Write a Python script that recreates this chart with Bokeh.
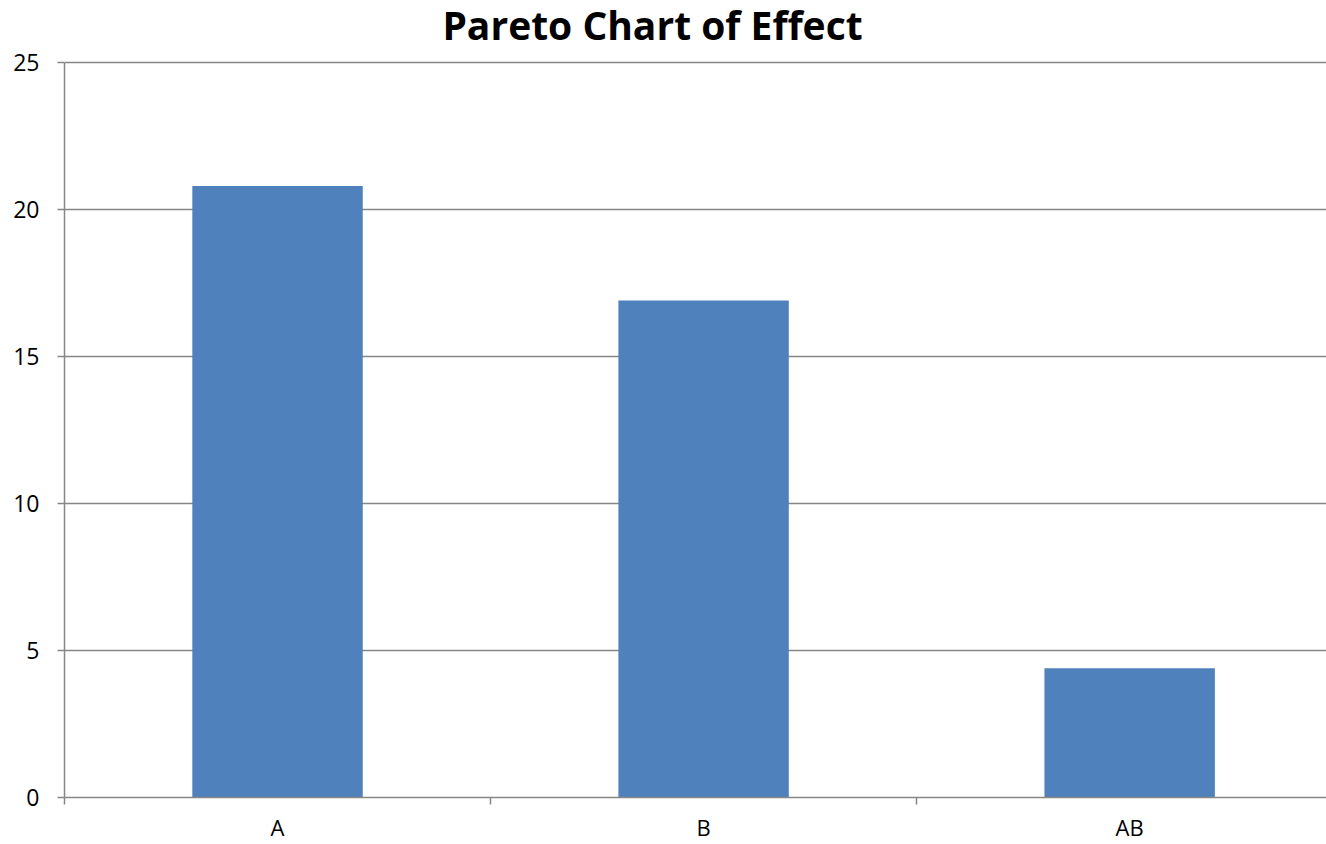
from bokeh.plotting import figure
from bokeh.models import Range1d, FixedTicker, LinearAxis, ColumnDataSource, Grid, Label
from bokeh.embed import file_html
from bokeh.resources import INLINE

# Pareto effects
factors = ["A", "B", "AB"]
effects = [20.8, 16.9, 4.4]
y_ticks = [0, 5, 10, 15, 20, 25]
y_max = 25
title = "Pareto Chart of Effect"

FONT = "Open Sans"
GRID = "#868686"
BAR = "#4F81BD"

W, H = 1326, 844
BOTTOM = 46            # room for the category axis
HEAD = 62              # headroom above the value axis for the title
frame_h = H - BOTTOM
# the plot frame reaches the top of the canvas; the value scale is stretched so
# that y_max sits HEAD pixels below it and the title can live in the headroom
y_top = y_max * frame_h / (frame_h - HEAD)

positions = [i + 0.5 for i in range(len(factors))]
boundaries = list(range(len(factors) + 1))
src = ColumnDataSource(dict(x=positions, top=effects, name=factors))

p = figure(width=W, height=H, output_backend="svg", toolbar_location=None,
           x_range=Range1d(0, 2.962), y_range=Range1d(0, y_top),
           x_axis_location=None, y_axis_location=None,
           min_border_left=64, min_border_right=0, min_border_top=0, min_border_bottom=BOTTOM)
p.outline_line_color = None

p.add_layout(Label(x=588, y=frame_h - 25, x_units="screen", y_units="screen", text=title,
                   text_font=FONT, text_font_size="39px", text_font_style="bold",
                   text_color="black", text_align="center", text_baseline="alphabetic"))

p.vbar(x="x", top="top", width=0.4, source=src, fill_color=BAR, line_color=None)

# y axis
yax = LinearAxis(ticker=FixedTicker(ticks=y_ticks), bounds=(0, y_max))
yax.axis_line_color = GRID
yax.axis_line_width = 1.5
yax.major_tick_line_color = GRID
yax.major_tick_line_width = 1.5
yax.major_tick_out = 7
yax.major_tick_in = 0
yax.minor_tick_line_color = None
yax.major_label_text_font = FONT
yax.major_label_text_font_size = "23px"
yax.major_label_text_color = "black"
yax.major_label_standoff = 18
p.add_layout(yax, "left")

# x axis: names at the bar centres, minor ticks on category boundaries
xax = LinearAxis(ticker=FixedTicker(ticks=positions, minor_ticks=boundaries))
xax.axis_line_color = GRID
xax.axis_line_width = 1.5
xax.major_tick_line_color = None
xax.major_tick_out = 0
xax.major_tick_in = 0
xax.minor_tick_line_color = GRID
xax.minor_tick_line_width = 1.5
xax.minor_tick_out = 7
xax.minor_tick_in = 0
xax.major_label_overrides = {pos: name for pos, name in zip(positions, factors)}
xax.major_label_text_font = FONT
xax.major_label_text_font_size = "22px"
xax.major_label_text_color = "black"
xax.major_label_standoff = 7
p.add_layout(xax, "below")

p.xgrid.grid_line_color = None
p.ygrid.grid_line_color = None

hgrid = Grid(dimension=1, ticker=FixedTicker(ticks=y_ticks[1:]),
             grid_line_color=GRID, grid_line_width=1.5)
p.add_layout(hgrid)

open("out.html", "w").write(file_html(p, INLINE))
